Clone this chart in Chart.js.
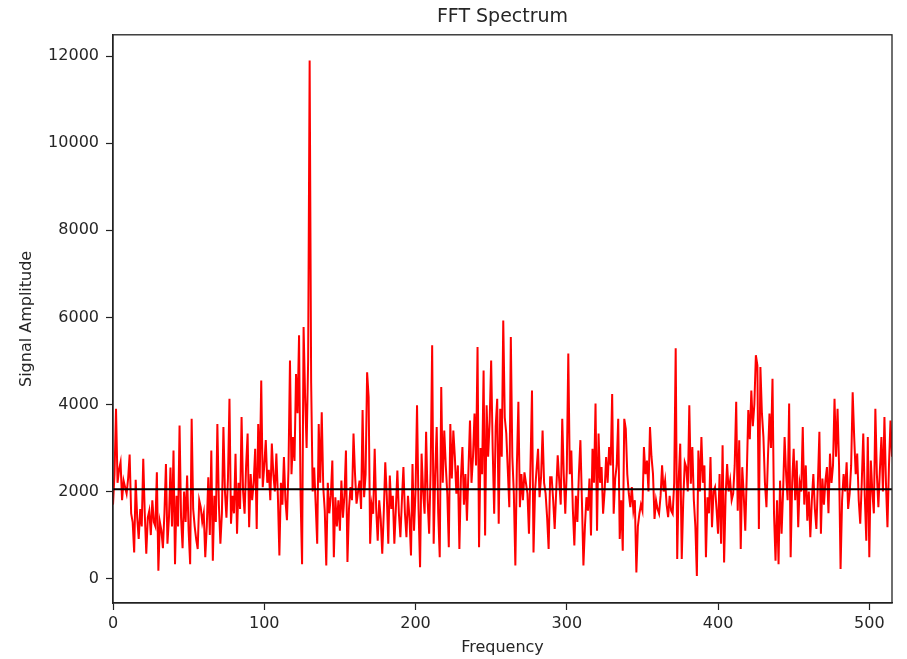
<!DOCTYPE html>
<html>
<head>
<meta charset="utf-8">
<script src="https://cdn.jsdelivr.net/npm/chart.js@4.4.1/dist/chart.umd.min.js"></script>
<style>
	html, body { margin: 0; padding: 0; background: #ffffff; }
	#wrap { width: 907px; height: 659px; }
</style>
</head>
<body>
<div id="wrap"><canvas id="FFTChart" width="907" height="659"></canvas></div>
<script>
// amplitude of each FFT bin (bins 0 .. 515)
const amplitudes = [
	1700, 2400, 3900, 2200, 2500, 2670, 1800, 2250, 2100, 1950,
	2300, 2850, 1500, 1300, 600, 2270, 1400, 910, 1600, 1200,
	2750, 1500, 570, 1400, 1560, 1000, 1800, 1300, 1200, 2440,
	180, 1300, 1100, 700, 1500, 2630, 800, 1400, 2550, 1200,
	2940, 330, 1900, 1200, 3515, 1400, 700, 2000, 1300, 2370,
	1100, 330, 3670, 1600, 1200, 900, 680, 1800, 1640, 1300,
	1500, 490, 1200, 2330, 1000, 2940, 410, 1900, 1300, 3550,
	1700, 800, 1500, 3480, 2000, 1400, 2300, 4130, 1260, 1900,
	1500, 2870, 1030, 2200, 1600, 3710, 2000, 1490, 2600, 3330,
	1180, 2400, 1800, 2200, 2980, 1140, 3550, 2300, 4550, 2100,
	2600, 3180, 2200, 2500, 1800, 3100, 2400, 2000, 2870, 1900,
	530, 2200, 1700, 2790, 1800, 1340, 2500, 5010, 2400, 3250,
	2700, 4700, 3800, 5590, 1900, 330, 5780, 4200, 3000, 5000,
	11900, 4500, 2000, 2550, 1700, 800, 3550, 2200, 3820, 2100,
	1560, 300, 2200, 1500, 1900, 2710, 490, 1870, 1200, 1800,
	1100, 2250, 1400, 1900, 2940, 380, 1600, 2100, 1800, 3330,
	2400, 1720, 2000, 2250, 1600, 3870, 1870, 2400, 4740, 4170,
	800, 1700, 1490, 2980, 1600, 870, 1800, 1370, 570, 1500,
	2670, 1900, 800, 2370, 1600, 1900, 800, 1600, 2480, 1500,
	950, 1800, 2560, 1500, 950, 1900, 1400, 530, 2630, 1100,
	2000, 3980, 1600, 260, 2870, 2000, 1490, 3370, 1800, 1030,
	2500, 5360, 800, 2400, 3480, 1500, 490, 4400, 2200, 3400,
	2600, 1950, 720, 3550, 2300, 3400, 2800, 1950, 2600, 680,
	2300, 3020, 1700, 2400, 1330, 2500, 3630, 2200, 2800, 3790,
	2600, 5320, 720, 3000, 2400, 4780, 990, 3980, 2800, 3600,
	5010, 3000, 1490, 3500, 4130, 1260, 3900, 2800, 5930, 3700,
	3330, 2500, 1640, 5550, 2800, 1950, 300, 2600, 4060, 1640,
	2400, 1800, 2440, 2200, 1950, 1030, 2600, 4320, 600, 2000,
	2500, 2980, 1870, 2330, 3400, 2200, 1950, 1400, 680, 2330,
	2330, 1800, 1140, 2000, 2830, 2250, 1700, 3670, 2400, 1490,
	2500, 5170, 2400, 2940, 1600, 760, 1900, 1300, 2400, 3180,
	1800, 300, 1200, 1870, 1560, 2300, 990, 2980, 2200, 4020,
	1100, 3330, 2200, 2560, 1490, 2000, 2790, 2200, 3020, 2600,
	4240, 1490, 2300, 2600, 3670, 910, 1800, 640, 3670, 3440,
	2400, 1950, 1640, 2100, 1560, 1800, 140, 1200, 1490, 1700,
	1560, 3020, 2400, 2710, 2000, 3480, 2800, 2400, 1370, 1800,
	1600, 1490, 1900, 2600, 2000, 2250, 1700, 1410, 1900, 1560,
	1490, 2200, 5290, 450, 2300, 3100, 450, 1800, 2670, 2560,
	2000, 3980, 2180, 3020, 1800, 1200, 60, 2940, 2000, 3250,
	2200, 2600, 490, 1870, 1500, 2790, 1180, 2000, 2100, 1600,
	1030, 2400, 800, 3060, 370, 1900, 2630, 2000, 2250, 1800,
	1950, 2600, 4060, 1560, 3180, 680, 2560, 1900, 1100, 2400,
	3870, 3200, 4320, 3500, 4000, 5130, 4900, 1140, 4860, 3800,
	3250, 2200, 1640, 2800, 3790, 3000, 4590, 1490, 410, 1800,
	330, 2250, 1030, 2000, 3250, 2400, 1800, 4020, 490, 2200,
	2980, 1800, 2710, 1180, 2200, 2000, 3480, 1700, 2600, 1330,
	2000, 950, 1800, 2400, 1600, 1140, 2200, 3370, 1030, 2300,
	1700, 2250, 2560, 1500, 2870, 2200, 2600, 4130, 2800, 3900,
	2600, 220, 1800, 2400, 2000, 2670, 1600, 1950, 2600, 4280,
	3250, 2400, 2870, 1800, 1260, 2200, 3330, 1900, 870, 3250,
	490, 2710, 2000, 1500, 3900, 2400, 1640, 2500, 3250, 2000,
	3710, 2200, 1180, 2600, 3630, 2800
];
// frequency bin of each amplitude
const frequencies = amplitudes.map((a, i) => i);
// level of the black reference line
const meanLevel = 2050;

const xTicks = [0, 100, 200, 300, 400, 500];
const yTicks = [0, 2000, 4000, 6000, 8000, 10000, 12000];
const xRange = [0, 515];
const yRange = [-560, 12490];

const spectrum_points = frequencies.map((f, i) => ({ x: f, y: amplitudes[i] }));
const mean_points = xRange.map((f) => ({ x: f, y: meanLevel }));

const text_color = "#262626";
const font_family = "'DejaVu Sans', sans-serif";

// matplotlib-like box round the plot area
const frame_plugin = {
	id: "frame",
	afterDraw(chart) {
		const { ctx, chartArea } = chart;
		ctx.save();
		ctx.strokeStyle = "#222222";
		ctx.lineWidth = 1.3;
		ctx.strokeRect(chartArea.left, chartArea.top, chartArea.right - chartArea.left, chartArea.bottom - chartArea.top);
		ctx.restore();
	},
};

new Chart(document.getElementById("FFTChart").getContext("2d"), {
	type: "line",
	data: {
		datasets: [
			{
				data: mean_points,
				borderColor: "#000000",
				borderWidth: 2,
				pointRadius: 0,
				order: 0,
			},
			{
				data: spectrum_points,
				borderColor: "#ff0000",
				borderWidth: 2,
				pointRadius: 0,
				tension: 0,
				order: 1,
			},
		],
	},
	options: {
		responsive: false,
		animation: false,
		events: [],
		layout: { padding: { left: 0, right: 15, top: 0, bottom: 0 } },
		scales: {
			x: {
				type: "linear",
				min: xRange[0],
				max: xRange[1],
				afterBuildTicks: (scale) => {
					scale.ticks = xTicks.map((v) => ({ value: v }));
				},
				afterFit: (scale) => {
					scale.height = 56;
				},
				grid: { drawOnChartArea: false, tickLength: 7, tickColor: "#222222", tickWidth: 1.2 },
				border: { color: "#222222", width: 1.3 },
				ticks: {
					color: text_color,
					font: { family: font_family, size: 16 },
					padding: 4,
					maxRotation: 0,
					callback: (value) => String(value),
				},
				title: {
					display: true,
					text: "Frequency",
					color: text_color,
					font: { family: font_family, size: 16 },
					padding: { top: 0, bottom: 2 },
				},
			},
			y: {
				type: "linear",
				min: yRange[0],
				max: yRange[1],
				afterBuildTicks: (scale) => {
					scale.ticks = yTicks.map((v) => ({ value: v }));
				},
				afterFit: (scale) => {
					scale.width = 113;
				},
				grid: { drawOnChartArea: false, tickLength: 7, tickColor: "#222222", tickWidth: 1.2 },
				border: { color: "#222222", width: 1.3 },
				ticks: {
					color: text_color,
					font: { family: font_family, size: 16 },
					padding: 7,
					callback: (value) => String(value),
				},
				title: {
					display: true,
					text: "Signal Amplitude",
					color: text_color,
					font: { family: font_family, size: 16 },
					padding: { top: 17, bottom: 0 },
				},
			},
		},
		plugins: {
			legend: { display: false },
			tooltip: { enabled: false },
			title: {
				display: true,
				text: "FFT Spectrum",
				color: text_color,
				fullSize: false,
				font: { family: font_family, size: 19, weight: "normal" },
				padding: { top: 6, bottom: 6 },
			},
		},
	},
	plugins: [frame_plugin],
});
</script>
</body>
</html>
